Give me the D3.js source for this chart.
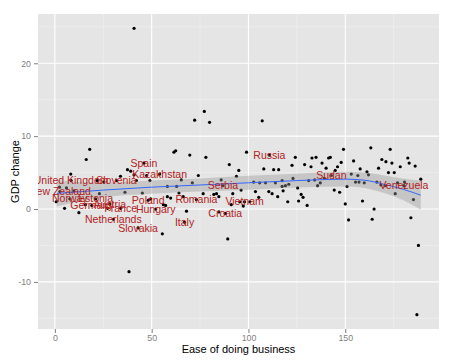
<!DOCTYPE html>
<html>
<head>
<meta charset="utf-8">
<script src="https://cdn.jsdelivr.net/npm/d3@7"></script>
<style>
  body { margin: 0; background: #fff; }
  svg { display: block; font-family: "Liberation Sans", Arial, sans-serif; }
</style>
</head>
<body>
<div id="chart"></div>
<script>
// unlabelled countries: ease of doing business rank vs GDP change
const easeRank = [
  40.9, 38.3, 187.0, 187.8, 18.0, 16.2, 8.2, 2.4, 6.0, 9.8, 0.7, 5.0, 12.4, 23.0, 21.8, 25.3,
  33.9, 15.8, 37.5, 39.2, 42.1, 36.2, 45.2, 27.2, 55.5, 49.5, 58.1, 59.8, 72.2, 61.5, 62.4,
  69.7, 40.9, 47.4, 49.1, 58.1, 62.9, 65.3, 71.0, 74.1, 64.1, 66.3, 56.0, 57.2, 68.0, 77.2,
  79.9, 78.0, 90.1, 95.0, 93.8, 99.0, 107.1, 107.9, 113.0, 115.6, 85.9, 102.7, 105.8, 108.8,
  113.9, 117.4, 96.2, 76.6, 82.1, 83.5, 84.7, 91.9, 103.6, 105.3, 110.5, 112.2, 115.1, 95.5,
  100.7, 91.1, 97.3, 84.7, 89.3,
  149.1, 124.2, 132.8, 134.9, 141.4, 142.3, 154.3, 147.9, 138.0, 122.5, 129.0, 132.3, 146.0,
  140.1, 144.8, 157.7, 153.1, 156.5, 123.0, 131.1, 134.2, 137.1, 139.2, 135.7, 120.8, 119.1,
  117.4, 155.3, 157.1, 125.4, 117.9, 150.9, 144.3, 147.1, 127.2, 128.2, 125.9, 120.3, 130.3,
  150.0, 151.7, 163.2, 173.2, 182.3, 168.9, 171.0, 174.1, 183.0, 186.1, 178.4, 167.2, 161.2,
  162.0, 172.3, 175.3, 189.0, 159.8, 166.3, 168.4, 170.6, 177.0, 180.6, 175.8, 185.2, 158.9,
  164.9, 163.9, 183.9
];
const gdpChange = [
  24.8, -8.6, -14.5, -5.0, 8.2, 6.8, 4.8, 3.0, 2.9, 2.5, 1.0, 0.1, -0.5, 2.1, 3.9, 3.7,
  4.5, 0.6, 5.4, 5.2, 3.9, 2.3, 2.2, 0.1, -3.4, 1.4, 1.7, 1.5, 12.2, 7.8, 8.0,
  7.4, 4.7, 4.6, 3.9, 3.1, 3.1, 4.0, 3.6, 4.6, 2.2, 1.7, 0.6, 0.5, -0.3, 13.4,
  11.9, 7.1, 6.1, 5.3, 4.5, 7.8, 12.1, 5.5, 5.4, 5.4, 4.0, 3.7, 3.6, 3.6,
  3.6, 3.9, 2.6, 2.1, 2.0, 2.1, 1.7, 2.1, 2.4, 1.6, 2.4, 2.1, 1.7, 1.0,
  1.0, 0.6, 0.4, -0.4, -4.1,
  8.2, 7.1, 7.0, 7.1, 7.0, 7.1, 6.6, 6.4, 6.3, 6.0, 6.1, 5.8, 5.8,
  5.6, 5.3, 5.5, 4.8, 4.6, 4.2, 3.9, 4.0, 3.6, 4.2, 3.2, 3.4, 3.2,
  3.1, 3.7, 3.7, 2.9, 2.5, 3.1, 2.6, 2.3, 2.0, 1.6, 1.1, 1.0, 0.5,
  0.7, -1.5, 8.4, 8.2, 7.0, 6.8, 6.5, 6.3, 6.3, 5.9, 5.8, 5.6, 5.1,
  4.7, 5.0, 5.0, 4.1, 3.6, 3.7, 3.3, 3.2, 3.6, 3.7, 2.1, 1.3, 1.1,
  0.0, -1.4, -1.2
];

// labelled countries
const labelNames = [
  "Spain", "Kazakhstan", "United Kingdom", "New Zealand", "Norway", "Estonia", "Germany",
  "Austria", "France", "Slovenia", "Netherlands", "Slovakia", "Poland", "Hungary", "Italy",
  "Romania", "Serbia", "Croatia", "Vietnam", "Russia", "Sudan", "Venezuela"
];
const labelEase = [
  46.0, 54.1, 8.4, 2.6, 7.7, 21.0, 19.1, 28.4, 34.0, 31.8, 30.2, 43.0, 48.2, 52.1, 67.0,
  73.1, 86.8, 88.0, 98.0, 110.8, 142.8, 180.3
];
const labelGdp = [
  6.3, 4.8, 3.9, 2.4, 1.4, 1.4, 0.5, 0.7, 0.1, 3.9, -1.4, -2.6, 1.2, 0.0, -1.8,
  1.3, 3.2, -0.6, 1.0, 7.4, 4.6, 3.2
];

// loess fit
const fitEase = [1, 25, 50, 75, 100, 125, 150, 160, 170, 180, 189];
const fitGdp = [2.15, 2.6, 3.0, 3.3, 3.6, 3.9, 4.1, 3.95, 3.4, 2.7, 1.9];
const fitSe = [1.8, 1.0, 0.9, 0.9, 0.95, 0.95, 1.0, 1.05, 1.2, 1.5, 2.0];

const xMajor = [0, 50, 100, 150];
const xMinor = [25, 75, 125, 175];
const yMajor = [-10, 0, 10, 20];
const yMinor = [-15, -5, 5, 15, 25];

const width = 454;
const height = 363;
const margin = { top: 14, right: 15, bottom: 34, left: 38 };

const points = easeRank.map((x, i) => ({ x, y: gdpChange[i] }))
  .concat(labelNames.map((name, i) => ({ x: labelEase[i], y: labelGdp[i], name })));
const fit = fitEase.map((x, i) => ({ x, y: fitGdp[i], se: fitSe[i] }));

function expand([lo, hi]) {
  const pad = (hi - lo) * 0.05;
  return [lo - pad, hi + pad];
}

const x = d3.scaleLinear()
  .domain(expand(d3.extent(points, (d) => d.x)))
  .range([margin.left, width - margin.right]);
const y = d3.scaleLinear()
  .domain(expand(d3.extent(points, (d) => d.y)))
  .range([height - margin.bottom, margin.top]);

const svg = d3.select("#chart").append("svg")
  .attr("width", width)
  .attr("height", height);

svg.append("clipPath").attr("id", "panel-clip")
  .append("rect")
  .attr("x", margin.left)
  .attr("y", margin.top)
  .attr("width", width - margin.left - margin.right)
  .attr("height", height - margin.top - margin.bottom);

svg.append("rect")
  .attr("x", margin.left)
  .attr("y", margin.top)
  .attr("width", width - margin.left - margin.right)
  .attr("height", height - margin.top - margin.bottom)
  .attr("fill", "#e5e5e5");

const grid = svg.append("g");
grid.selectAll(".vminor").data(xMinor).join("line")
  .attr("x1", (d) => x(d)).attr("x2", (d) => x(d))
  .attr("y1", margin.top).attr("y2", height - margin.bottom)
  .attr("stroke", "#f2f2f2").attr("stroke-width", 0.6);
grid.selectAll(".hminor").data(yMinor).join("line")
  .attr("x1", margin.left).attr("x2", width - margin.right)
  .attr("y1", (d) => y(d)).attr("y2", (d) => y(d))
  .attr("stroke", "#f2f2f2").attr("stroke-width", 0.6);
grid.selectAll(".vmajor").data(xMajor).join("line")
  .attr("x1", (d) => x(d)).attr("x2", (d) => x(d))
  .attr("y1", margin.top).attr("y2", height - margin.bottom)
  .attr("stroke", "#fff").attr("stroke-width", 1.1);
grid.selectAll(".hmajor").data(yMajor).join("line")
  .attr("x1", margin.left).attr("x2", width - margin.right)
  .attr("y1", (d) => y(d)).attr("y2", (d) => y(d))
  .attr("stroke", "#fff").attr("stroke-width", 1.1);

const panel = svg.append("g").attr("clip-path", "url(#panel-clip)");

panel.append("g").selectAll("circle").data(points).join("circle")
  .attr("cx", (d) => x(d.x))
  .attr("cy", (d) => y(d.y))
  .attr("r", 1.6)
  .attr("fill", "#000");

panel.append("path")
  .datum(fit)
  .attr("fill", "#999")
  .attr("fill-opacity", 0.4)
  .attr("d", d3.area()
    .curve(d3.curveMonotoneX)
    .x((d) => x(d.x))
    .y0((d) => y(d.y - d.se))
    .y1((d) => y(d.y + d.se)));

panel.append("path")
  .datum(fit)
  .attr("fill", "none")
  .attr("stroke", "#3366ff")
  .attr("stroke-width", 1)
  .attr("d", d3.line()
    .curve(d3.curveMonotoneX)
    .x((d) => x(d.x))
    .y((d) => y(d.y)));

panel.append("g").selectAll("text").data(points.filter((d) => d.name)).join("text")
  .attr("x", (d) => x(d.x))
  .attr("y", (d) => y(d.y))
  .attr("dy", "0.35em")
  .attr("text-anchor", "middle")
  .attr("font-size", 10.5)
  .attr("fill", "#b22222")
  .text((d) => d.name);

const axisX = svg.append("g")
  .attr("transform", `translate(0,${height - margin.bottom})`)
  .call(d3.axisBottom(x).tickValues(xMajor).tickSize(4).tickPadding(2));
const axisY = svg.append("g")
  .attr("transform", `translate(${margin.left},0)`)
  .call(d3.axisLeft(y).tickValues(yMajor).tickSize(4).tickPadding(3)
    .tickFormat((d) => (d < 0 ? "-" + Math.abs(d) : d)));

[axisX, axisY].forEach((axis) => {
  axis.select(".domain").remove();
  axis.selectAll(".tick line").attr("stroke", "#7f7f7f");
  axis.selectAll(".tick text")
    .attr("fill", "#7f7f7f")
    .attr("font-size", 8.8)
    .attr("font-family", "Liberation Sans, Arial, sans-serif");
});

svg.append("text")
  .attr("x", (margin.left + width - margin.right) / 2)
  .attr("y", height - 10)
  .attr("text-anchor", "middle")
  .attr("font-size", 11)
  .attr("fill", "#000")
  .text("Ease of doing business");

svg.append("text")
  .attr("transform", `translate(15,${(margin.top + height - margin.bottom) / 2}) rotate(-90)`)
  .attr("text-anchor", "middle")
  .attr("dy", "0.35em")
  .attr("font-size", 11)
  .attr("fill", "#000")
  .text("GDP change");
</script>
</body>
</html>
